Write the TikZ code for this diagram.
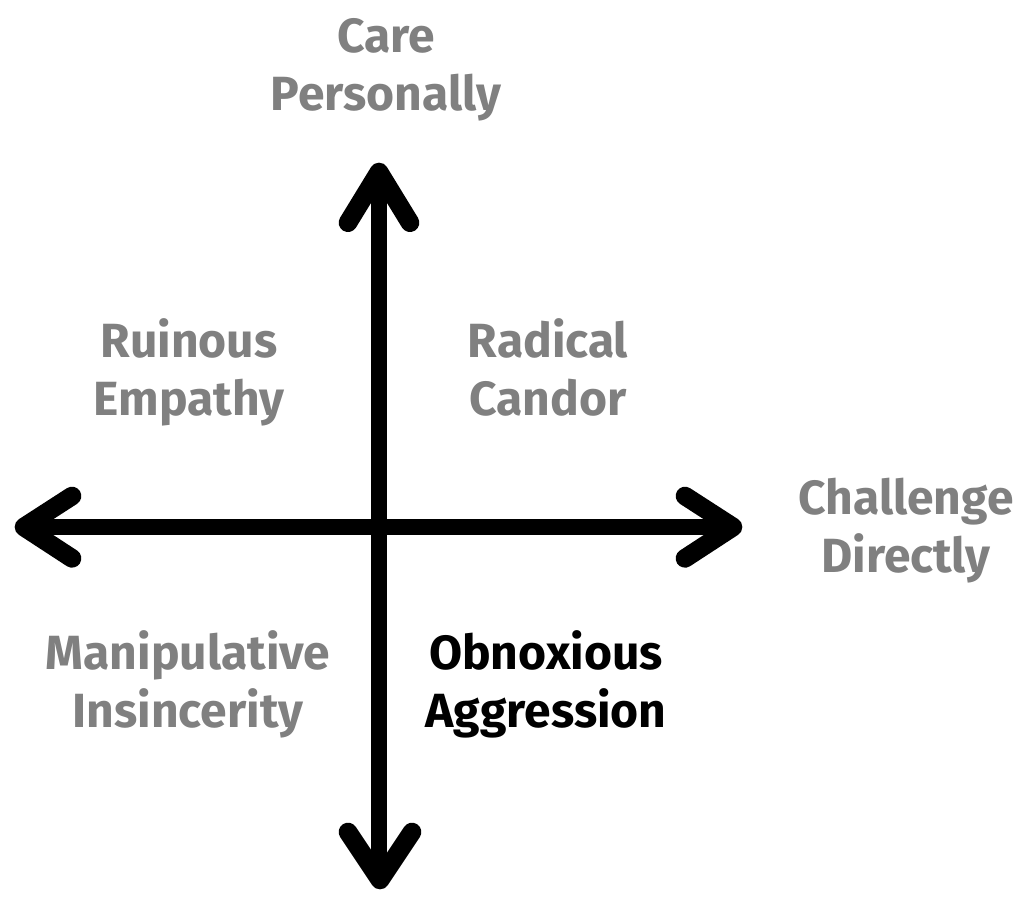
\documentclass[tikz,border=0pt]{standalone}
\usepackage{fontspec}
\setmainfont{Fira Sans}
\definecolor{labelgray}{HTML}{808080}
\tikzset{
  axisline/.style={line width=12pt, black},
  headline/.style={line width=14pt, black, line cap=round, line join=round},
  lbl/.style={inner sep=0pt, anchor=base, align=center, text=labelgray,
    font=\fontsize{36}{43.5}\selectfont\bfseries},
}
\begin{document}
\begin{tikzpicture}[x=0.75pt, y=-0.75pt]
\useasboundingbox (0,0) rectangle (1024,908);
\coordinate (top) at (379,172);
\coordinate (bottom) at (380,880);
\coordinate (left) at (24,527);
\coordinate (right) at (733,527);
\coordinate (vt) at (379,172);
\coordinate (vb) at (379,880);
\draw[axisline] (left) -- (right);
\draw[axisline] (vt) -- (vb);
\draw[headline] ([xshift=-23.25pt,yshift=-38pt]top) -- (top) -- ([xshift=23.25pt,yshift=-38pt]top);
\draw[headline] ([xshift=-24pt,yshift=36pt]bottom) -- (bottom) -- ([xshift=24pt,yshift=36pt]bottom);
\draw[headline] ([xshift=36pt,yshift=23.25pt]left) -- (left) -- ([xshift=36pt,yshift=-23.5pt]left);
\draw[headline] ([xshift=-36pt,yshift=23.25pt]right) -- (right) -- ([xshift=-36pt,yshift=-23.5pt]right);
\node[lbl] (care) at (386,110) {Care\\Personally};
\node[lbl] (ruinous) at (189,415) {Ruinous\\Empathy};
\node[lbl] (radical) at (548,415) {Radical\\Candor};
\node[lbl] (challenge) at (906,572) {Challenge\\Directly};
\node[lbl] (manip) at (188,727) {Manipulative\\Insincerity};
\node[lbl, text=black] (obnox) at (546,727) {Obnoxious\\Aggression};
\end{tikzpicture}
\end{document}
